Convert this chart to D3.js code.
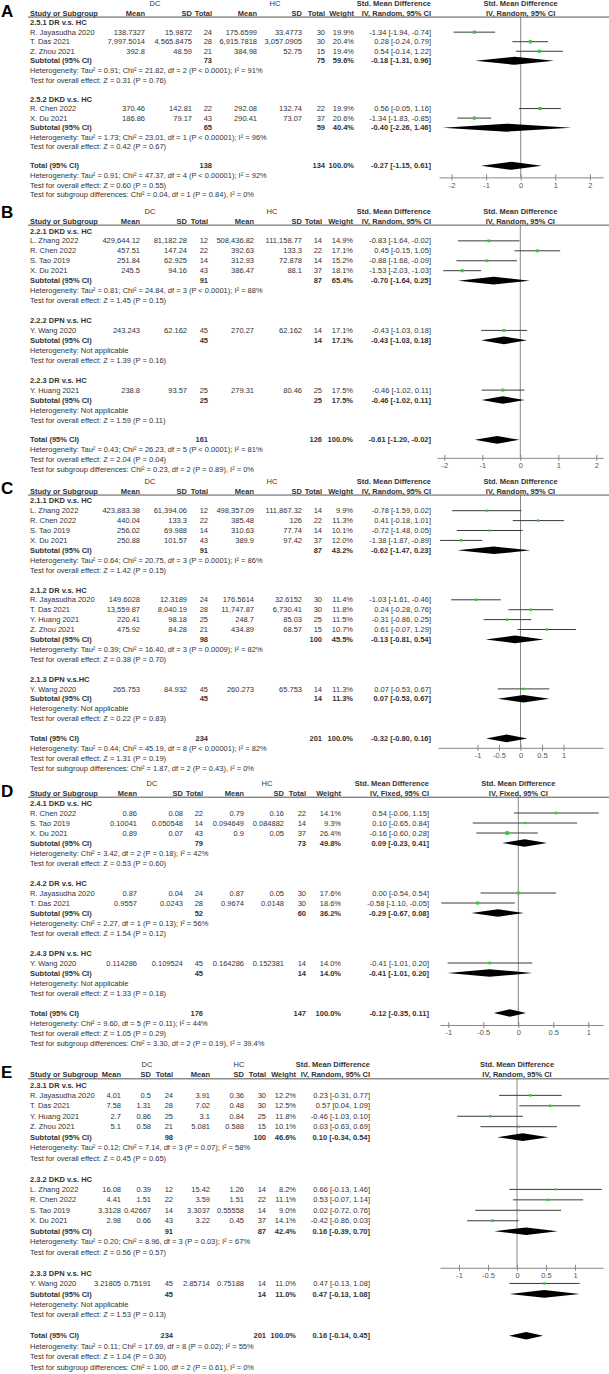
<!DOCTYPE html>
<html><head><meta charset="utf-8">
<script src="https://cdn.jsdelivr.net/npm/d3@7"></script>
<style>body{margin:0;background:#fff}svg{display:block}text{font-family:"Liberation Sans",Arial,sans-serif;}</style>
</head><body><svg id="c" width="609" height="1374"></svg>
<script>
// ---------------- DATA ----------------
// study row: [name, DC mean, DC SD, DC total, HC mean, HC SD, HC total, weight %, SMD, lower, upper]
const A_titles = ["2.5.1 DR v.s. HC", "2.5.2 DKD v.s. HC"];
const A_g1 = [
  ["R. Jayasudha 2020","138.7327","15.9872",24,"175.6599","33.4773",30,19.9,-1.34,-1.94,-0.74],
  ["T. Das 2021","7,997.5014","4,565.8475",28,"6,915.7818","3,057.0905",30,20.4,0.28,-0.24,0.79],
  ["Z. Zhou 2021","392.8","48.59",21,"384.98","52.75",15,19.4,0.54,-0.14,1.22]];
const A_g2 = [
  ["R. Chen 2022","370.46","142.81",22,"292.08","132.74",22,19.9,0.56,-0.05,1.16],
  ["X. Du 2021","186.86","79.17",43,"290.41","73.07",37,20.6,-1.34,-1.83,-0.85]];
const A_sub = [[73,75,59.6,-0.18,-1.31,0.96],[65,59,40.4,-0.40,-2.26,1.46]];
const A_het = ["Heterogeneity: Tau² = 0.91; Chi² = 21.82, df = 2 (P < 0.0001); I² = 91%",
               "Heterogeneity: Tau² = 1.73; Chi² = 23.01, df = 1 (P < 0.00001); I² = 96%"];
const A_test = ["Test for overall effect: Z = 0.31 (P = 0.76)","Test for overall effect: Z = 0.42 (P = 0.67)"];
const A_total = [138,134,100.0,-0.27,-1.15,0.61];
const A_totalText = ["Heterogeneity: Tau² = 0.91; Chi² = 47.37, df = 4 (P < 0.00001); I² = 92%",
  "Test for overall effect: Z = 0.60 (P = 0.55)",
  "Test for subgroup differences: Chi² = 0.04, df = 1 (P = 0.84), I² = 0%"];
const A_ticks = [-2,-1,0,1,2];

const B_titles = ["2.2.1 DKD v.s. HC","2.2.2 DPN v.s. HC","2.2.3 DR v.s. HC"];
const B_g1 = [
  ["L. Zhang 2022","429,644.12","81,182.28",12,"508,436.82","111,158.77",14,14.9,-0.83,-1.64,-0.02],
  ["R. Chen 2022","457.51","147.24",22,"392.63","133.3",22,17.1,0.45,-0.15,1.05],
  ["S. Tao 2019","251.84","62.925",14,"312.93","72.878",14,15.2,-0.88,-1.68,-0.09],
  ["X. Du 2021","245.5","94.16",43,"386.47","88.1",37,18.1,-1.53,-2.03,-1.03]];
const B_g2 = [["Y. Wang 2020","243.243","62.162",45,"270.27","62.162",14,17.1,-0.43,-1.03,0.18]];
const B_g3 = [["Y. Huang 2021","238.8","93.57",25,"279.31","80.46",25,17.5,-0.46,-1.02,0.11]];
const B_sub = [[91,87,65.4,-0.70,-1.64,0.25],[45,14,17.1,-0.43,-1.03,0.18],[25,25,17.5,-0.46,-1.02,0.11]];
const B_het = ["Heterogeneity: Tau² = 0.81; Chi² = 24.84, df = 3 (P < 0.0001); I² = 88%",
  "Heterogeneity: Not applicable","Heterogeneity: Not applicable"];
const B_test = ["Test for overall effect: Z = 1.45 (P = 0.15)","Test for overall effect: Z = 1.39 (P = 0.16)",
  "Test for overall effect: Z = 1.59 (P = 0.11)"];
const B_total = [161,126,100.0,-0.61,-1.20,-0.02];
const B_totalText = ["Heterogeneity: Tau² = 0.43; Chi² = 26.23, df = 5 (P < 0.0001); I² = 81%",
  "Test for overall effect: Z = 2.04 (P = 0.04)",
  "Test for subgroup differences: Chi² = 0.23, df = 2 (P = 0.89), I² = 0%"];
const B_ticks = [-2,-1,0,1,2];

const C_titles = ["2.1.1 DKD v.s. HC","2.1.2 DR v.s. HC","2.1.3 DPN v.s.HC"];
const C_g1 = [
  ["L. Zhang 2022","423,883.38","61,394.06",12,"498,357.09","111,867.32",14,9.9,-0.78,-1.59,0.02],
  ["R. Chen 2022","440.04","133.3",22,"385.48","126",22,11.3,0.41,-0.18,1.01],
  ["S. Tao 2019","256.02","69.988",14,"310.63","77.74",14,10.1,-0.72,-1.48,0.05],
  ["X. Du 2021","250.88","101.57",43,"389.9","97.42",37,12.0,-1.38,-1.87,-0.89]];
const C_g2 = [
  ["R. Jayasudha 2020","149.6028","12.3189",24,"176.5614","32.6152",30,11.4,-1.03,-1.61,-0.46],
  ["T. Das 2021","13,559.87","8,040.19",28,"11,747.87","6,730.41",30,11.8,0.24,-0.28,0.76],
  ["Y. Huang 2021","220.41","98.18",25,"248.7","85.03",25,11.5,-0.31,-0.86,0.25],
  ["Z. Zhou 2021","475.92","84.28",21,"434.89","68.57",15,10.7,0.61,-0.07,1.29]];
const C_g3 = [["Y. Wang 2020","265.753","84.932",45,"260.273","65.753",14,11.3,0.07,-0.53,0.67]];
const C_sub = [[91,87,43.2,-0.62,-1.47,0.23],[98,100,45.5,-0.13,-0.81,0.54],[45,14,11.3,0.07,-0.53,0.67]];
const C_het = ["Heterogeneity: Tau² = 0.64; Chi² = 20.75, df = 3 (P = 0.0001); I² = 86%",
  "Heterogeneity: Tau² = 0.39; Chi² = 16.40, df = 3 (P = 0.0009); I² = 82%",
  "Heterogeneity: Not applicable"];
const C_test = ["Test for overall effect: Z = 1.42 (P = 0.15)","Test for overall effect: Z = 0.38 (P = 0.70)",
  "Test for overall effect: Z = 0.22 (P = 0.83)"];
const C_total = [234,201,100.0,-0.32,-0.80,0.16];
const C_totalText = ["Heterogeneity: Tau² = 0.44; Chi² = 45.19, df = 8 (P < 0.00001); I² = 82%",
  "Test for overall effect: Z = 1.31 (P = 0.19)",
  "Test for subgroup differences: Chi² = 1.87, df = 2 (P = 0.43), I² = 0%"];
const C_ticks = [-1,-0.5,0,0.5,1];

const D_titles = ["2.4.1 DKD v.s. HC","2.4.2 DR v.s. HC","2.4.3 DPN v.s. HC"];
const D_g1 = [
  ["R. Chen 2022","0.86","0.08",22,"0.79","0.16",22,14.1,0.54,-0.06,1.15],
  ["S. Tao 2019","0.10041","0.050548",14,"0.094649","0.084882",14,9.3,0.10,-0.65,0.84],
  ["X. Du 2021","0.89","0.07",43,"0.9","0.05",37,26.4,-0.16,-0.60,0.28]];
const D_g2 = [
  ["R. Jayasudha 2020","0.87","0.04",24,"0.87","0.05",30,17.6,0.00,-0.54,0.54],
  ["T. Das 2021","0.9557","0.0243",28,"0.9674","0.0148",30,18.6,-0.58,-1.10,-0.05]];
const D_g3 = [["Y. Wang 2020","0.114286","0.109524",45,"0.164286","0.152381",14,14.0,-0.41,-1.01,0.20]];
const D_sub = [[79,73,49.8,0.09,-0.23,0.41],[52,60,36.2,-0.29,-0.67,0.08],[45,14,14.0,-0.41,-1.01,0.20]];
const D_het = ["Heterogeneity: Chi² = 3.42, df = 2 (P = 0.18); I² = 42%",
  "Heterogeneity: Chi² = 2.27, df = 1 (P = 0.13); I² = 56%","Heterogeneity: Not applicable"];
const D_test = ["Test for overall effect: Z = 0.53 (P = 0.60)","Test for overall effect: Z = 1.54 (P = 0.12)",
  "Test for overall effect: Z = 1.33 (P = 0.18)"];
const D_total = [176,147,100.0,-0.12,-0.35,0.11];
const D_totalText = ["Heterogeneity: Chi² = 9.60, df = 5 (P = 0.11); I² = 44%",
  "Test for overall effect: Z = 1.05 (P = 0.29)",
  "Test for subgroup differences: Chi² = 3.30, df = 2 (P = 0.19), I² = 39.4%"];
const D_ticks = [-1,-0.5,0,0.5,1];

const E_titles = ["2.3.1 DR v.s. HC","2.3.2 DKD v.s. HC","2.3.3 DPN v.s. HC"];
const E_g1 = [
  ["R. Jayasudha 2020","4.01","0.5",24,"3.91","0.36",30,12.2,0.23,-0.31,0.77],
  ["T. Das 2021","7.58","1.31",28,"7.02","0.48",30,12.5,0.57,0.04,1.09],
  ["Y. Huang 2021","2.7","0.86",25,"3.1","0.84",25,11.8,-0.46,-1.03,0.10],
  ["Z. Zhou 2021","5.1","0.58",21,"5.081","0.588",15,10.1,0.03,-0.63,0.69]];
const E_g2 = [
  ["L. Zhang 2022","16.08","0.39",12,"15.42","1.26",14,8.2,0.66,-0.13,1.46],
  ["R. Chen 2022","4.41","1.51",22,"3.59","1.51",22,11.1,0.53,-0.07,1.14],
  ["S. Tao 2019","3.3128","0.42667",14,"3.3037","0.55558",14,9.0,0.02,-0.72,0.76],
  ["X. Du 2021","2.98","0.66",43,"3.22","0.45",37,14.1,-0.42,-0.86,0.03]];
const E_g3 = [["Y. Wang 2020","3.21805","0.75191",45,"2.85714","0.75188",14,11.0,0.47,-0.13,1.08]];
const E_sub = [[98,100,46.6,0.10,-0.34,0.54],[91,87,42.4,0.16,-0.39,0.70],[45,14,11.0,0.47,-0.13,1.08]];
const E_het = ["Heterogeneity: Tau² = 0.12; Chi² = 7.14, df = 3 (P = 0.07); I² = 58%",
  "Heterogeneity: Tau² = 0.20; Chi² = 8.96, df = 3 (P = 0.03); I² = 67%","Heterogeneity: Not applicable"];
const E_test = ["Test for overall effect: Z = 0.45 (P = 0.65)","Test for overall effect: Z = 0.56 (P = 0.57)",
  "Test for overall effect: Z = 1.53 (P = 0.13)"];
const E_total = [234,201,100.0,0.16,-0.14,0.45];
const E_totalText = ["Heterogeneity: Tau² = 0.11; Chi² = 17.69, df = 8 (P = 0.02); I² = 55%",
  "Test for overall effect: Z = 1.04 (P = 0.30)",
  "Test for subgroup differences: Chi² = 1.00, df = 2 (P = 0.61), I² = 0%"];
const E_ticks = [-1,-0.5,0,0.5,1];

// ---------------- DRAWING ----------------
const svg = d3.select("#c");
const FS = 7.5, TXT = "#333";
const f2 = v => (v < 0 ? "-" : "") + Math.abs(v).toFixed(2);
const ciT = (m,l,h) => f2(m) + " [" + f2(l) + ", " + f2(h) + "]";
const wT = w => w.toFixed(1) + "%";

function txt(g, x, y, s, anchor, bold, size, fill){
  g.append("text").attr("x", x).attr("y", y).attr("dy", "0.35em")
   .attr("text-anchor", anchor || "start").attr("font-size", size || FS)
   .attr("font-weight", bold ? "bold" : "normal").attr("fill", fill || TXT).text(s);
}

function drawPanel(p){
  const g = svg.append("g");
  const c = p.cols;
  const Y = r => p.top + r * p.rowH;
  const x = d3.scaleLinear()
    .domain([(p.axisL - p.zero) / p.unit, (p.axisR - p.zero) / p.unit])
    .range([p.axisL, p.axisR]);
  g.append("text").attr("x", 1).attr("y", p.letterY).attr("font-size", 17).attr("font-weight", "bold")
   .attr("fill", "#000").text(p.letter);
  txt(g, c.dc, Y(0), "DC", "middle");
  txt(g, c.hc, Y(0), "HC", "middle");
  txt(g, c.v[7], Y(0), "Std. Mean Difference", "end", true);
  txt(g, p.zero, Y(0), "Std. Mean Difference", "middle", true);
  txt(g, 30, Y(1), "Study or Subgroup", "start", true);
  ["Mean","SD","Total","Mean","SD","Total","Weight",p.method].forEach((h,i) => txt(g, c.v[i], Y(1), h, "end", true));
  txt(g, p.zero, Y(1), p.method, "middle", true);
  const lineY = Y(1) + p.rowH * 0.42;
  g.append("line").attr("x1", 28).attr("x2", 609).attr("y1", lineY).attr("y2", lineY)
   .attr("stroke", "#555").attr("stroke-width", 1);

  const diamond = (yy, m, l, h, hh) => {
    g.append("path").attr("d", `M${x(l)},${yy}L${x(m)},${yy-hh}L${x(h)},${yy}L${x(m)},${yy+hh}Z`).attr("fill", "#000");
  };

  let r = 2;
  const marks = g.append("g");
  p.groups.forEach((st, gi) => {
    txt(g, 30, Y(r), p.titles[gi], "start", true); r++;
    st.forEach(d => {
      const yy = Y(r);
      txt(g, 30, yy, d[0]);
      [d[1], d[2], d[3], d[4], d[5], d[6], wT(d[7]), ciT(d[8], d[9], d[10])]
        .forEach((v,i) => txt(g, c.v[i], yy, v, "end"));
      marks.append("line").attr("x1", x(d[9])).attr("x2", x(d[10])).attr("y1", yy).attr("y2", yy)
        .attr("stroke", "#3a3a3a").attr("stroke-width", 1);
      const s = Math.max(2, 0.72 * Math.sqrt(d[7]));
      marks.append("rect").attr("x", x(d[8]) - s/2).attr("y", yy - s/2).attr("width", s).attr("height", s)
        .attr("fill", "#33cc33");
      r++;
    });
    const sb = p.subs[gi], yy = Y(r);
    txt(g, 30, yy, "Subtotal (95% CI)", "start", true);
    txt(g, c.v[2], yy, sb[0], "end", true);
    txt(g, c.v[5], yy, sb[1], "end", true);
    txt(g, c.v[6], yy, wT(sb[2]), "end", true);
    txt(g, c.v[7], yy, ciT(sb[3], sb[4], sb[5]), "end", true);
    diamond(yy, sb[3], sb[4], sb[5], p.dh);
    r++;
    txt(g, 30, Y(r), p.het[gi]); r++;
    txt(g, 30, Y(r), p.test[gi]); r++;
    r++;
  });
  const t = p.total, ty = Y(r);
  txt(g, 30, ty, "Total (95% CI)", "start", true);
  txt(g, c.v[2], ty, t[0], "end", true);
  txt(g, c.v[5], ty, t[1], "end", true);
  txt(g, c.v[6], ty, wT(t[2]), "end", true);
  txt(g, c.v[7], ty, ciT(t[3], t[4], t[5]), "end", true);
  diamond(ty, t[3], t[4], t[5], p.dh);
  p.totalText.forEach((s,i) => txt(g, 30, Y(r + 1 + i), s));

  const ay = p.axisRow != null ? Y(p.axisRow) : ty + p.axisOff;
  g.insert("line", ":first-child").attr("x1", x(0)).attr("x2", x(0)).attr("y1", lineY).attr("y2", ay)
   .attr("stroke", "#888").attr("stroke-width", 1);
  const ax = g.append("g").attr("transform", `translate(0,${ay})`)
    .call(d3.axisBottom(x).tickValues(p.ticks).tickSize(3).tickSizeOuter(0).tickFormat(d => String(d)));
  ax.select(".domain").attr("stroke", "#888");
  ax.selectAll(".tick line").attr("stroke", "#888").attr("y1", -3).attr("y2", 3);
  ax.selectAll(".tick text").attr("font-size", FS).attr("fill", "#555").attr("y", 5)
    .attr("font-family", '"Liberation Sans",Arial,sans-serif');
}

drawPanel({letter:"A", letterY:17, top:3.5, rowH:9.55, zero:520.7, unit:34.6, axisL:439, axisR:603, axisOff:11.5, dh:4,
  method:"IV, Random, 95% CI", cols:{dc:155, hc:275, v:[145,192,212,257,302,325,354,431]},
  titles:A_titles, groups:[A_g1,A_g2], subs:A_sub, het:A_het, test:A_test, total:A_total, totalText:A_totalText, ticks:A_ticks});
drawPanel({letter:"B", letterY:218, top:211, rowH:9.95, zero:520.3, unit:38, axisL:437, axisR:603, axisOff:18, dh:3.8,
  method:"IV, Random, 95% CI", cols:{dc:150, hc:272, v:[140,187,208,254,302,322,353,431]},
  titles:B_titles, groups:[B_g1,B_g2,B_g3], subs:B_sub, het:B_het, test:B_test, total:B_total, totalText:B_totalText, ticks:B_ticks});
drawPanel({letter:"C", letterY:494, top:481, rowH:9.9, zero:520.5, unit:43, axisL:438, axisR:603, axisOff:9.4, dh:3.8,
  method:"IV, Random, 95% CI", cols:{dc:150, hc:272, v:[140,187,208,254,302,322,353,431]},
  titles:C_titles, groups:[C_g1,C_g2,C_g3], subs:C_sub, het:C_het, test:C_test, total:C_total, totalText:C_totalText, ticks:C_ticks});
drawPanel({letter:"D", letterY:797, top:783, rowH:10, zero:518.3, unit:70, axisL:440, axisR:603, axisOff:12, dh:3.8,
  method:"IV, Fixed, 95% CI", cols:{dc:152, hc:267, v:[137,183,203,244,284,306,341,429]},
  titles:D_titles, groups:[D_g1,D_g2,D_g3], subs:D_sub, het:D_het, test:D_test, total:D_total, totalText:D_totalText, ticks:D_ticks});
drawPanel({letter:"E", letterY:1078, top:1064, rowH:10.45, zero:517, unit:58, axisL:440, axisR:603, axisRow:19.5, dh:3.8,
  method:"IV, Random, 95% CI", cols:{dc:147, hc:239, v:[121,151,173,210,244,266,296,370]},
  titles:E_titles, groups:[E_g1,E_g2,E_g3], subs:E_sub, het:E_het, test:E_test, total:E_total, totalText:E_totalText, ticks:E_ticks});
</script>
</body></html>
